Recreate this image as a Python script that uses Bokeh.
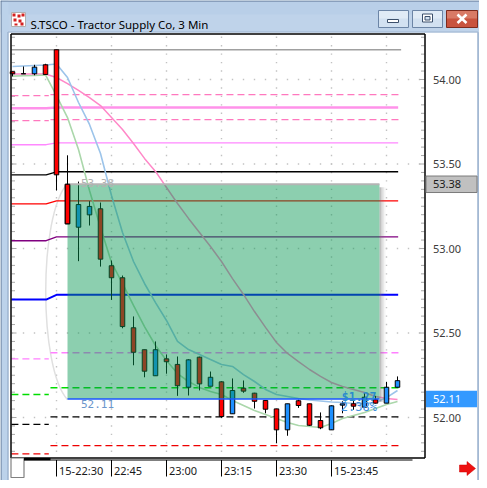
from bokeh.plotting import figure
from bokeh.models import Range1d
from bokeh.core.properties import value
from bokeh.embed import file_html
from bokeh.resources import INLINE

# ---------------- data ----------------
bar_times = ["22:18", "22:21", "22:24", "22:27", "22:30", "22:33", "22:36", "22:39",
             "22:42", "22:45", "22:48", "22:51", "22:54", "22:57", "23:00", "23:03",
             "23:06", "23:09", "23:12", "23:15", "23:18", "23:21", "23:24", "23:27",
             "23:30", "23:33", "23:36", "23:39", "23:42", "23:45", "23:48", "23:51",
             "23:54", "23:57", "00:00", "00:03"]
opens = [54.046, 54.034, 54.034, 54.087, 54.176, 53.380, 53.126, 53.199, 53.235, 52.898,
         52.827, 52.531, 52.401, 52.247, 52.347, 52.314, 52.179, 52.357, 52.185, 52.211,
         52.022, 52.173, 52.144, 52.101, 52.051, 51.927, 52.099, 52.081, 51.982, 51.927,
         52.073, 52.081, 52.061, 52.105, 52.085, 52.179]
highs = [54.046, 54.077, 54.087, 54.093, 54.176, 53.550, 53.396, 53.280, 53.272, 52.929,
         52.840, 52.598, 52.401, 52.450, 52.373, 52.361, 52.345, 52.360, 52.272, 52.215,
         52.231, 52.219, 52.146, 52.101, 52.051, 52.081, 52.105, 52.081, 52.030, 52.072,
         52.096, 52.105, 52.144, 52.128, 52.211, 52.243]
lows = [54.018, 54.034, 54.025, 54.030, 53.343, 53.146, 52.925, 53.136, 52.893, 52.696,
        52.528, 52.309, 52.238, 52.247, 52.259, 52.128, 52.130, 52.160, 52.185, 51.998,
        52.022, 52.146, 52.053, 52.025, 51.848, 51.892, 52.057, 51.950, 51.931, 51.927,
        52.025, 52.046, 52.061, 52.083, 52.085, 52.179]
closes = [54.034, 54.034, 54.073, 54.030, 53.436, 53.146, 53.260, 53.249, 52.937, 52.827,
          52.538, 52.386, 52.274, 52.401, 52.330, 52.188, 52.341, 52.199, 52.238, 52.006,
          52.160, 52.156, 52.096, 52.049, 51.927, 52.081, 52.071, 51.954, 51.939, 52.069,
          52.081, 52.067, 52.120, 52.085, 52.179, 52.218]

ma_blue = [54.077, 54.080, 54.083, 54.086, 54.092, 54.012, 53.864, 53.734, 53.562, 53.314,
           53.095, 52.923, 52.793, 52.680, 52.574, 52.450, 52.402, 52.373, 52.343, 52.314,
           52.302, 52.254, 52.213, 52.166, 52.136, 52.124, 52.112, 52.104, 52.098, 52.092,
           52.089, 52.083, 52.083, 52.089, 52.118, 52.160]
ma_green = [54.020, 54.022, 54.024, 54.027, 53.905, 53.775, 53.586, 53.343, 53.124, 52.917,
            52.793, 52.663, 52.538, 52.426, 52.337, 52.260, 52.213, 52.178, 52.154, 52.136,
            52.101, 52.071, 52.041, 52.018, 51.994, 51.970, 51.953, 51.947, 51.941, 51.964,
            51.994, 52.012, 52.030, 52.053, 52.077, 52.095]
ma_pink = [54.033, 54.033, 54.033, 54.033, 54.012, 53.976, 53.935, 53.893, 53.846, 53.775,
           53.704, 53.621, 53.533, 53.456, 53.361, 53.266, 53.178, 53.095, 53.012, 52.923,
           52.822, 52.728, 52.627, 52.533, 52.444, 52.379, 52.331, 52.284, 52.243, 52.207,
           52.183, 52.166, 52.148, 52.124, 52.112, 52.107]

# session levels: previous session (left) and current session (right)
level_prev = [54.176, 53.905, 53.830, 53.757, 53.614, 53.436, 53.264, 53.046, 52.698,
              52.347, 52.136, 51.959, 51.785]
level_curr = [54.176, 53.911, 53.834, 53.762, 53.625, 53.454, 53.282, 53.069, 52.726,
              52.383, 52.176, 52.004, 51.834]

price_ticks = [52.00, 52.50, 53.00, 53.50, 54.00]
time_ticks = ["22:30", "22:45", "23:00", "23:15", "23:30", "23:45"]
time_tick_labels = ["15-22:30", "22:45", "23:00", "23:15", "23:30", "15-23:45"]
grid_times = ["22:30", "22:45", "23:00", "23:15", "23:30", "23:45", "00:00"]

anchor_time = "22:33"
anchor_price = 53.38
last_price = 52.11
title_text = "S.TSCO - Tractor Supply Co, 3 Min"

# ---------------- styles / layout ----------------
level_color = ["#a0a0a0", "#ff78be", "#ff92ea", "#ff78be", "#ff88ff", "#000000", "#ff0000",
               "#800080", "#0000ff", "#ff80ff", "#00dd00", "#000000", "#ee0000"]
level_dashed = [False, True, False, True, False, False, False, False, False, True, True, True, True]
level_width = [1.3, 1.3, 2.5, 1.3, 1.3, 1.3, 1.3, 1.3, 2.0, 1.3, 1.3, 1.3, 1.3]
level_tail = [0.33, 0.33, 0.06, 0.33, 0.06, 0.06, 0.06, 0.06, 0.06, 0.33, 0.33, 0.33, 0.33]

W, H = 479, 480
OFF = 0
BAR0_PX, BAR_PX = 12.0, 11.0
P_REF, P_REF_PX, PX_PER = 54.0, 79.0, 169.0
PLOT_L, PLOT_R, PLOT_T, PLOT_B = 10.5, 424.5, 33.5, 457.5

x_start = (OFF - BAR0_PX) / BAR_PX
x_end = (OFF + W - BAR0_PX) / BAR_PX
y_top = P_REF + (P_REF_PX - OFF) / PX_PER
y_bot = P_REF - (OFF + H - P_REF_PX) / PX_PER

p = figure(width=W, height=H, x_range=Range1d(x_start, x_end), y_range=Range1d(y_bot, y_top),
           output_backend="svg", toolbar_location=None, x_axis_location=None,
           y_axis_location=None, min_border=0, outline_line_color=None, title=None,
           background_fill_color="white", border_fill_color="white")
p.extra_x_ranges = {"wx": Range1d(OFF, OFF + W)}
p.extra_y_ranges = {"wy": Range1d(OFF + H, OFF)}
p.grid.visible = False
WX = dict(x_range_name="wx", y_range_name="wy")
XW = dict(x_range_name="wx")   # x in window pixels, y in price
YW = dict(y_range_name="wy")   # x in bars, y in window pixels

FONT = value("Noto Sans")
MONO = value("DejaVu Sans Mono")

kx = list(range(len(bar_times)))
kidx = {t: i for i, t in enumerate(bar_times)}

# ---------------- window chrome ----------------
p.quad(left=[0], right=[W], top=[0], bottom=[32], fill_color="#bfd3ea", line_color=None, **WX)
p.quad(left=[0], right=[W], top=[0], bottom=[14], fill_color="#b9cfe8", line_color=None, **WX)
p.quad(left=[0], right=[8], top=[0], bottom=[H], fill_color="#bcd2ea", line_color=None, **WX)
p.quad(left=[477], right=[W], top=[32], bottom=[H], fill_color="#b6cce6", line_color=None, **WX)
p.segment(x0=[0, 0.5], y0=[0.5, 0], x1=[W, 0.5], y1=[0.5, H], line_color="#5a7090", line_width=1, **WX)
p.segment(x0=[7.5, 477.5], y0=[31.5, 31.5], x1=[7.5, 477.5], y1=[H, H], line_color="#8fa5c2", line_width=1, **WX)
p.segment(x0=[7.5], y0=[31.5], x1=[477.5], y1=[31.5], line_color="#9fb5d0", line_width=1, **WX)
# icon
p.quad(left=[11], right=[25], top=[12], bottom=[26], fill_color="#ffffff", line_color="#b0b0b0", **WX)
p.quad(left=[12, 17, 21, 13, 18, 14, 20], right=[15, 20, 24, 16, 21, 17, 23],
       top=[13, 14, 13, 18, 19, 23, 22], bottom=[16, 17, 16, 21, 22, 25, 25],
       fill_color="#d42020", line_color=None, **WX)
p.text(x=[30], y=[24], text=[title_text], text_font=FONT, text_font_size=value("11.5px"),
       text_color="#000000", text_baseline="alphabetic", text_align="left", **WX)
# buttons
p.quad(left=[378, 412], right=[408, 442], top=[10, 10], bottom=[27, 27],
       fill_color="#d2e1f1", line_color="#6c85a6", line_width=1, **WX)
p.quad(left=[378.5, 412.5], right=[407.5, 441.5], top=[10.5, 10.5], bottom=[18, 18],
       fill_color="#e0ebf6", line_color=None, **WX)
p.quad(left=[387], right=[398], top=[19], bottom=[22], fill_color="#ffffff", line_color="#3b4f6b", **WX)
p.quad(left=[422], right=[432], top=[13.5], bottom=[21.5], fill_color="#ffffff", line_color="#3b4f6b", **WX)
p.quad(left=[424.5], right=[429.5], top=[16], bottom=[19.5], fill_color="#d2e1f1", line_color="#3b4f6b", **WX)
p.quad(left=[446], right=[477], top=[10], bottom=[27], fill_color="#c9533e", line_color="#7d2b1e", **WX)
p.quad(left=[446.5], right=[476.5], top=[10.5], bottom=[18], fill_color="#d97a66", line_color=None, **WX)
p.segment(x0=[457, 457], y0=[14, 22.5], x1=[466, 466], y1=[22.5, 14], line_color="#ffffff",
          line_width=2.6, **WX)

# ---------------- dotted grid ----------------
minor_ticks = [round(51.80 + 0.05 * i, 2) for i in range(50)]
gx, gy = [], []
for pt in price_ticks:
    for i in range(0, 38):
        gx.append(i); gy.append(pt)
for t in grid_times:
    for mt in minor_ticks:
        gx.append(kidx[t]); gy.append(mt)
p.scatter(gx, gy, marker="square", size=1.4, fill_color="#c2c2c2", line_color=None)

# edge ticks
for mt in minor_ticks:
    ln = 5 if abs(mt * 2 - round(mt * 2)) < 1e-6 else 3.5
    p.segment(x0=[PLOT_L + 0.5, PLOT_R - 0.5 - ln], y0=[mt, mt], x1=[PLOT_L + 0.5 + ln, PLOT_R - 0.5],
              y1=[mt, mt], line_color="#a8a8a8", line_width=1, **XW)

# faint bracket arc left of the measure box
rs = kidx[anchor_time]
span = anchor_price - last_price
p.bezier(x0=[rs], y0=[anchor_price + 0.005], x1=[rs], y1=[last_price - 0.005],
         cx0=[rs - 2.64], cy0=[anchor_price - span * 0.145],
         cx1=[rs - 2.64], cy1=[last_price + span * 0.145],
         line_color="#e0e0e0", line_width=1.5)

# ---------------- session levels ----------------
sess = kidx["22:30"]
last_k = len(bar_times) - 1
for i in range(len(level_prev)):
    a, b = level_prev[i], level_curr[i]
    end = last_k + level_tail[i]
    if level_dashed[i]:
        p.line([-0.1, sess - 0.7], [a, a], line_color=level_color[i], line_width=level_width[i],
               line_dash="7 4")
        p.line([sess - 0.55, end], [b, b], line_color=level_color[i], line_width=level_width[i],
               line_dash="7 4")
    else:
        p.line([-0.1, sess - 0.94, sess, end], [a, a, b, b], line_color=level_color[i],
               line_width=level_width[i])

# ---------------- moving averages ----------------
p.line(kx, ma_pink, line_color="#ff88c8", line_width=1.5)
p.line(kx, ma_blue, line_color="#9cc4ea", line_width=1.6)
p.line(kx, ma_green, line_color="#abd7ab", line_width=1.6)

# ---------------- candles ----------------
def body_color(o, c):
    return "#1e90ff" if c > o else ("#ff0000" if c < o else "#000000")

cols = [body_color(o, c) for o, c in zip(opens, closes)]
tops = [max(o, c) for o, c in zip(opens, closes)]
bots = [min(o, c) for o, c in zip(opens, closes)]
BODY_W = 0.41
p.segment(x0=kx, y0=highs, x1=kx, y1=lows, line_color="#000000", line_width=1)
p.vbar(x=kx, width=BODY_W, top=tops, bottom=bots, fill_color=cols, line_color="#000000", line_width=1)

# ---------------- measure box ----------------
re = 33.36
sh = 3.0 / PX_PER
for j, a in enumerate([0.45, 0.3, 0.17, 0.07]):
    p.quad(left=[re + j * 1.5 / BAR_PX], right=[re + (j + 1) * 1.5 / BAR_PX],
           top=[anchor_price - sh], bottom=[last_price - sh],
           fill_color="#707070", fill_alpha=a, line_color=None)
p.quad(left=[rs], right=[re], top=[anchor_price], bottom=[last_price],
       fill_color="#049650", fill_alpha=0.46, line_color=None)
p.segment(x0=[rs], y0=[anchor_price], x1=[re], y1=[anchor_price], line_color="#b4b4b4", line_width=2)
p.segment(x0=[rs], y0=[last_price], x1=[re], y1=[last_price], line_color="#1a56ff", line_width=1.5)
# anchor candle drawn above the box
p.segment(x0=[rs], y0=[highs[rs]], x1=[rs], y1=[lows[rs]], line_color="#000000", line_width=1)
p.vbar(x=[rs], width=BODY_W, top=[tops[rs]], bottom=[bots[rs]], fill_color=[cols[rs]],
       line_color="#000000", line_width=1)

diff = anchor_price - last_price
p.text(x=[rs], y=[anchor_price], text=[f"{anchor_price:.2f}"], x_offset=13.5, y_offset=-1.5,
       text_font=MONO, text_font_size=value("11px"), text_color="#b2b2b2",
       text_baseline="alphabetic", text_align="left")
p.text(x=[rs], y=[last_price], text=[f"{last_price:.2f}"], x_offset=13.5, y_offset=1.5,
       text_font=MONO, text_font_size=value("11px"), text_color="#6b96cc",
       text_baseline="top", text_align="left")
p.text(x=[re], y=[last_price], text=[f"${diff:.2f}"], x_offset=-3, y_offset=-2,
       text_font=MONO, text_font_size=value("11.5px"), text_font_style="bold",
       text_color="#2a8ccc", text_baseline="alphabetic", text_align="right")
p.text(x=[re], y=[last_price], text=[f"{diff / anchor_price * 100:.2f}%"], x_offset=-2.5, y_offset=1.5,
       text_font=MONO, text_font_size=value("12px"), text_color="#3d8fe0",
       text_baseline="top", text_align="right")

# ---------------- plot frame ----------------
p.segment(x0=[PLOT_L, PLOT_L, PLOT_R, PLOT_L], y0=[PLOT_T, PLOT_T, PLOT_T, PLOT_B],
          x1=[PLOT_L, PLOT_R, PLOT_R, PLOT_R], y1=[PLOT_B, PLOT_T, PLOT_B, PLOT_B],
          line_color="#000000", line_width=1.5, **WX)

# ---------------- right price axis ----------------
p.text(x=[432.5] * len(price_ticks), y=price_ticks, text=[f"{v:.2f}" for v in price_ticks],
       text_font=FONT, text_font_size=value("11px"), text_color="#3c3c3c",
       text_baseline="middle", text_align="left", **XW)
p.rect(x=[451], y=[anchor_price], width=51, height=16.5, height_units="screen",
       fill_color="#c0c0c0", line_color="#7a7a7a", line_width=1, **XW)
p.text(x=[432.5], y=[anchor_price], text=[f"{anchor_price:.2f}"], text_font=FONT,
       text_font_size=value("11px"), text_color="#1a1a1a", text_baseline="middle",
       text_align="left", **XW)
p.rect(x=[451], y=[last_price], width=51, height=16.5, height_units="screen",
       fill_color="#3399ff", line_color=None, **XW)
p.text(x=[432.5], y=[last_price], text=[f"{last_price:.2f}"], text_font=FONT,
       text_font_size=value("11px"), text_color="#ffffff", text_baseline="middle",
       text_align="left", **XW)

# ---------------- bottom time axis ----------------
p.quad(left=[10.5], right=[23.5], top=[457.5], bottom=[477], fill_color="#ffffff",
       line_color="#808080", line_width=1.2, **WX)
p.quad(left=[23.5], right=[50], top=[457.5], bottom=[459.8], fill_color="#000000", line_color=None, **WX)
p.segment(x0=[23.5], y0=[459.5], x1=[412], y1=[459.5], line_color="#000000", line_width=1, **WX)
tk = [kidx[t] for t in time_ticks]
p.segment(x0=tk, y0=[459.5] * len(tk), x1=tk, y1=[476] * len(tk), line_color="#000000",
          line_width=1, **YW)
p.text(x=tk, y=[469.5] * len(tk), text=time_tick_labels, x_offset=2.5, text_font=FONT,
       text_font_size=value("11px"), text_color="#1a1a1a", text_baseline="middle",
       text_align="left", **YW)
p.patch(x=[459, 466.5, 466.5, 475, 466.5, 466.5, 459], y=[464.5, 464.5, 461, 468, 475, 471.5, 471.5],
        fill_color="#ee1111", line_color="#cc0000", line_width=0.5, **WX)

open("out.html", "w").write(file_html(p, INLINE))
